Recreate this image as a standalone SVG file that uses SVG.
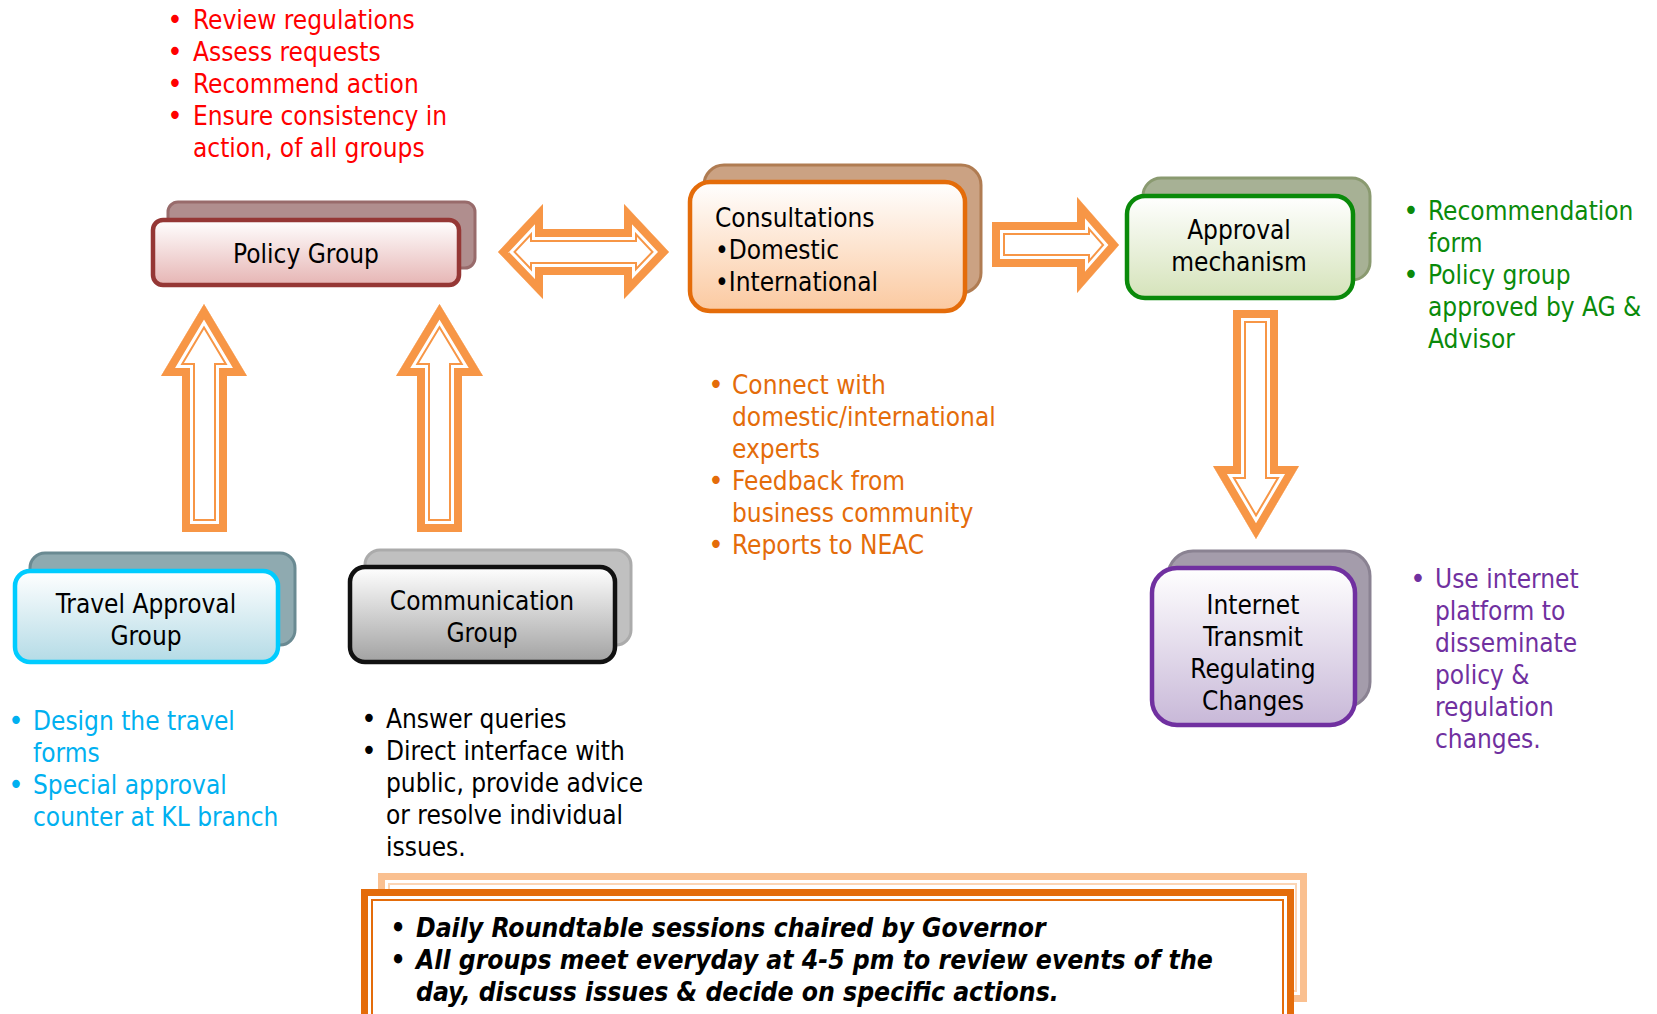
<svg xmlns="http://www.w3.org/2000/svg" xmlns:xlink="http://www.w3.org/1999/xlink" width="1657" height="1014" viewBox="0 0 1657 1014">
<style>
text{font-family:"DejaVu Sans Condensed","DejaVu Sans",sans-serif;font-stretch:condensed;font-size:26px}
.c{text-anchor:middle}
.b{font-size:29px}
.red{fill:#FF0000}.grn{fill:#0A8A0A}.org{fill:#E46C0A}.pur{fill:#7030A0}.blu{fill:#00B0F0}.blk{fill:#000}
.bi{font-weight:bold;font-style:italic;font-size:26.3px}
.aw{fill:#fff}
.a26{fill:none;stroke:#F79646;stroke-width:26;stroke-linejoin:miter;stroke-miterlimit:8}
.a22{fill:none;stroke:#fff;stroke-width:22;stroke-linejoin:miter;stroke-miterlimit:8}
.a16{fill:none;stroke:#F79646;stroke-width:16;stroke-linejoin:miter;stroke-miterlimit:8}
.fr{stroke-width:4.5}
.bk{stroke-width:3}
</style>
<defs>
<linearGradient id="gP" x1="0" y1="0" x2="0" y2="1"><stop offset="0" stop-color="#fff"/><stop offset="1" stop-color="#E6B5B4"/></linearGradient>
<linearGradient id="gC" x1="0" y1="0" x2="0" y2="1"><stop offset="0" stop-color="#fff"/><stop offset="1" stop-color="#FBC9A0"/></linearGradient>
<linearGradient id="gA" x1="0" y1="0" x2="0" y2="1"><stop offset="0" stop-color="#fff"/><stop offset="1" stop-color="#D5E3BA"/></linearGradient>
<linearGradient id="gT" x1="0" y1="0" x2="0" y2="1"><stop offset="0" stop-color="#fff"/><stop offset="1" stop-color="#B4DBE6"/></linearGradient>
<linearGradient id="gG" x1="0" y1="0" x2="0" y2="1"><stop offset="0" stop-color="#fff"/><stop offset="1" stop-color="#A2A2A2"/></linearGradient>
<linearGradient id="gI" x1="0" y1="0" x2="0" y2="1"><stop offset="0" stop-color="#fff"/><stop offset="1" stop-color="#C8B8D8"/></linearGradient>
<polygon id="up1" points="204,304 247,376 227,376 227,532 182,532 182,376 161,376"/>
<polygon id="up2" points="439.5,304 483,376 462,376 462,532 417,532 417,376 396,376"/>
<polygon id="dn" points="1233,310 1278,310 1278,466 1299,466 1256,539 1213,466 1233,466"/>
<polygon id="dbl" points="498,252 543,204 543,229 624,229 624,204 669,252 624,299 624,275 543,275 543,299"/>
<polygon id="rt" points="992,222 1077,222 1077,197 1119,245 1077,293 1077,267 992,267"/>
<clipPath id="cup1"><use xlink:href="#up1"/></clipPath>
<clipPath id="cup2"><use xlink:href="#up2"/></clipPath>
<clipPath id="cdn"><use xlink:href="#dn"/></clipPath>
<clipPath id="cdbl"><use xlink:href="#dbl"/></clipPath>
<clipPath id="crt"><use xlink:href="#rt"/></clipPath>
</defs>
<rect width="1657" height="1014" fill="#fff"/>

<g id="connectors">
<g clip-path="url(#cup1)"><use xlink:href="#up1" class="aw"/><use xlink:href="#up1" class="a26"/><use xlink:href="#up1" class="a22"/><use xlink:href="#up1" class="a16"/></g>
<g clip-path="url(#cup2)"><use xlink:href="#up2" class="aw"/><use xlink:href="#up2" class="a26"/><use xlink:href="#up2" class="a22"/><use xlink:href="#up2" class="a16"/></g>
<g clip-path="url(#cdn)"><use xlink:href="#dn" class="aw"/><use xlink:href="#dn" class="a26"/><use xlink:href="#dn" class="a22"/><use xlink:href="#dn" class="a16"/></g>
<g clip-path="url(#cdbl)"><use xlink:href="#dbl" class="aw"/><use xlink:href="#dbl" class="a26"/><use xlink:href="#dbl" class="a22"/><use xlink:href="#dbl" class="a16"/></g>
<g clip-path="url(#crt)"><use xlink:href="#rt" class="aw"/><use xlink:href="#rt" class="a26"/><use xlink:href="#rt" class="a22"/><use xlink:href="#rt" class="a16"/></g>
</g>

<g id="policy-notes">
<text class="red c b" x="175" y="29">•</text><text class="red" x="193" y="29">Review regulations</text>
<text class="red c b" x="175" y="61">•</text><text class="red" x="193" y="61">Assess requests</text>
<text class="red c b" x="175" y="93">•</text><text class="red" x="193" y="93">Recommend action</text>
<text class="red c b" x="175" y="125">•</text><text class="red" x="193" y="125">Ensure consistency in</text>
<text class="red" x="193" y="157">action, of all groups</text>
</g>

<g id="policy-group">
<rect x="168" y="202" width="307" height="66" rx="10" fill="#B08E8E" stroke="#986B6B" class="bk"/>
<rect x="153" y="220" width="306" height="65" rx="10" fill="url(#gP)" stroke="#953735" class="fr"/>
<text class="c blk" x="306" y="263">Policy Group</text>
</g>

<g id="consultations">
<rect x="704" y="165" width="277" height="128" rx="20" fill="#CBA283" stroke="#B07C52" class="bk"/>
<rect x="690" y="182" width="275" height="129" rx="20" fill="url(#gC)" stroke="#E46C0A" class="fr"/>
<text class="blk" x="715" y="227">Consultations</text>
<text class="blk" x="715" y="259">•Domestic</text>
<text class="blk" x="715" y="291">•International</text>
</g>

<g id="approval">
<rect x="1143" y="178" width="227" height="102" rx="18" fill="#A7B195" stroke="#8A9A70" class="bk"/>
<rect x="1127" y="196" width="226" height="102" rx="18" fill="url(#gA)" stroke="#0A8A0A" class="fr"/>
<text class="c blk" x="1239" y="239">Approval</text>
<text class="c blk" x="1239" y="271">mechanism</text>
</g>

<g id="approval-notes">
<text class="grn c b" x="1411" y="220">•</text><text class="grn" x="1428" y="220">Recommendation</text>
<text class="grn" x="1428" y="252">form</text>
<text class="grn c b" x="1411" y="284">•</text><text class="grn" x="1428" y="284">Policy group</text>
<text class="grn" x="1428" y="316">approved by AG &amp;</text>
<text class="grn" x="1428" y="348">Advisor</text>
</g>

<g id="consultation-notes">
<text class="org c b" x="716" y="394">•</text><text class="org" x="732" y="394">Connect with</text>
<text class="org" x="732" y="426">domestic/international</text>
<text class="org" x="732" y="458">experts</text>
<text class="org c b" x="716" y="490">•</text><text class="org" x="732" y="490">Feedback from</text>
<text class="org" x="732" y="522">business community</text>
<text class="org c b" x="716" y="554">•</text><text class="org" x="732" y="554">Reports to NEAC</text>
</g>

<g id="travel-group">
<rect x="30" y="553" width="265" height="92" rx="15" fill="#8FAAB0" stroke="#6A8A92" class="bk"/>
<rect x="15" y="571" width="263" height="91" rx="15" fill="url(#gT)" stroke="#00CCFF" class="fr"/>
<text class="c blk" x="146" y="613">Travel Approval</text>
<text class="c blk" x="146" y="645">Group</text>
</g>

<g id="communication-group">
<rect x="365" y="550" width="266" height="95" rx="15" fill="#C0C0C0" stroke="#ABABAB" class="bk"/>
<rect x="350" y="567" width="265" height="95" rx="15" fill="url(#gG)" stroke="#111" class="fr"/>
<text class="c blk" x="482" y="610">Communication</text>
<text class="c blk" x="482" y="642">Group</text>
</g>

<g id="internet">
<rect x="1168" y="551" width="202" height="156" rx="25" fill="#A49CAB" stroke="#8A8292" class="bk"/>
<rect x="1152" y="568" width="203" height="157" rx="25" fill="url(#gI)" stroke="#7030A0" class="fr"/>
<text class="c blk" x="1253" y="614">Internet</text>
<text class="c blk" x="1253" y="646">Transmit</text>
<text class="c blk" x="1253" y="678">Regulating</text>
<text class="c blk" x="1253" y="710">Changes</text>
</g>

<g id="internet-notes">
<text class="pur c b" x="1418" y="588">•</text><text class="pur" x="1435" y="588">Use internet</text>
<text class="pur" x="1435" y="620">platform to</text>
<text class="pur" x="1435" y="652">disseminate</text>
<text class="pur" x="1435" y="684">policy &amp;</text>
<text class="pur" x="1435" y="716">regulation</text>
<text class="pur" x="1435" y="748">changes.</text>
</g>

<g id="travel-notes">
<text class="blu c b" x="16" y="730">•</text><text class="blu" x="33" y="730">Design the travel</text>
<text class="blu" x="33" y="762">forms</text>
<text class="blu c b" x="16" y="794">•</text><text class="blu" x="33" y="794">Special approval</text>
<text class="blu" x="33" y="826">counter at KL branch</text>
</g>

<g id="communication-notes">
<text class="blk c b" x="369" y="728">•</text><text class="blk" x="386" y="728">Answer queries</text>
<text class="blk c b" x="369" y="760">•</text><text class="blk" x="386" y="760">Direct interface with</text>
<text class="blk" x="386" y="792">public, provide advice</text>
<text class="blk" x="386" y="824">or resolve individual</text>
<text class="blk" x="386" y="856">issues.</text>
</g>

<g id="roundtable">
<rect x="381.5" y="876.5" width="922" height="122" fill="#fff" stroke="#FAC090" stroke-width="7"/>
<rect x="389" y="884" width="907" height="107" fill="none" stroke="#FCD5B4" stroke-width="2"/>
<rect x="364.5" y="892.5" width="926" height="140" fill="#fff" stroke="#E46C0A" stroke-width="7"/>
<rect x="372" y="900" width="911" height="130" fill="none" stroke="#E46C0A" stroke-width="2"/>
<text class="blk c bi" x="398" y="937">•</text><text class="blk bi" x="416" y="937">Daily Roundtable sessions chaired by Governor</text>
<text class="blk c bi" x="398" y="969">•</text><text class="blk bi" x="416" y="969">All groups meet everyday at 4-5 pm to review events of the</text>
<text class="blk bi" x="416" y="1001">day, discuss issues &amp; decide on specific actions.</text>
</g>
</svg>
